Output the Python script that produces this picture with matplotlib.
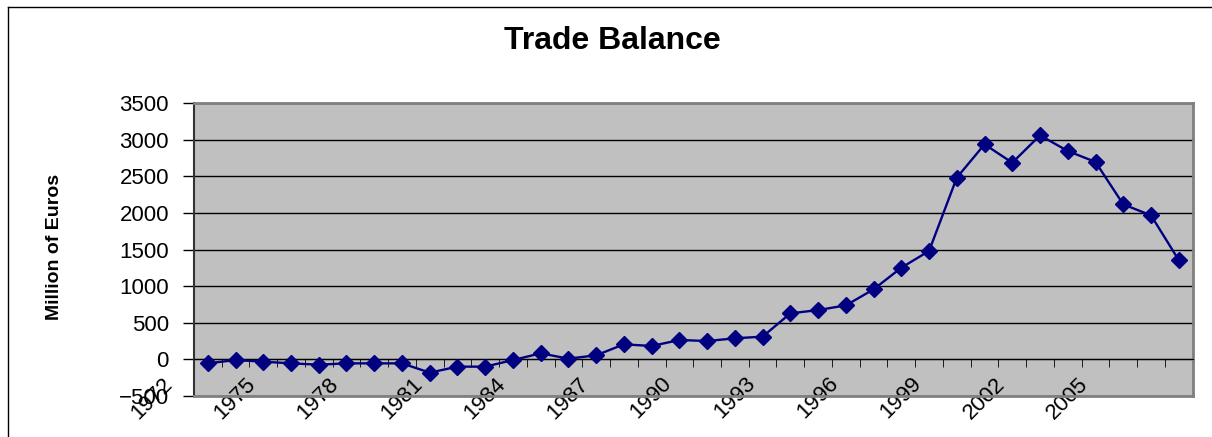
import numpy as np
import matplotlib
matplotlib.use('Agg')
import matplotlib.pyplot as plt
from matplotlib.lines import Line2D
from matplotlib.transforms import ScaledTranslation

plt.rcParams['font.family'] = ['Liberation Sans', 'DejaVu Sans']

years = list(range(1972, 2008))
balance = [-55, -10, -32, -55, -73, -55, -55, -55, -182, -100,
           -100, -10, 82, 9, 55, 205, 182, 264, 250, 287,
           310, 628, 673, 737, 956, 1252, 1480, 2482, 2937, 2686,
           3060, 2846, 2696, 2117, 1967, 1356]
label_years = years[::3]

fig = plt.figure(figsize=(12.12, 4.37), dpi=100)
ax = fig.add_axes([0.160, 0.094, 0.824, 0.670])
ax.set_facecolor('#c0c0c0')

x = np.arange(len(years))
ax.plot(x, balance, color='#000080', lw=1.7, marker='D', markersize=8,
        markerfacecolor='#000080', markeredgecolor='#000080', zorder=4)

ax.set_xlim(-0.5, len(years) - 0.5)
ax.set_ylim(-500, 3500)
ax.set_yticks(range(-500, 3501, 500))
ax.yaxis.grid(True, color='black', lw=1)
ax.set_axisbelow(True)

# x axis crosses at zero
ax.spines['bottom'].set_position(('data', 0))
ax.spines['bottom'].set_color('black')
ax.spines['left'].set_color('#333333')
ax.spines['left'].set_linewidth(1.5)
for s in ['top', 'right']:
    ax.spines[s].set_color('#808080')
    ax.spines[s].set_linewidth(2)
ax.axhline(-500, color='#808080', lw=2, clip_on=False, zorder=3)

ax.set_xticks([years.index(y) for y in label_years])
ax.set_xticklabels([str(y) for y in label_years], rotation=45, ha='right', va='top')
ax.set_xticks(np.arange(len(years) + 1) - 0.5, minor=True)
ax.tick_params(axis='x', which='major', length=0, pad=10, labelsize=16)
ax.tick_params(axis='x', which='minor', length=6, direction='out', color='black')
ax.tick_params(axis='y', length=8, width=1, pad=10, labelsize=16)

shift = ScaledTranslation(-0.31, 0, fig.dpi_scale_trans)
for t in ax.xaxis.get_major_ticks():
    t.label1.set_transform(t.label1.get_transform() + shift)

fig.text(0.505, 0.906, 'Trade Balance', ha='center', va='center',
         fontsize=23, fontweight='bold')
fig.text(0.045, 0.435, 'Million of Euros', ha='center', va='center',
         rotation=90, fontsize=14, fontweight='bold')

fig.add_artist(Line2D([0.0066, 0.0066], [0, 0.984], transform=fig.transFigure,
                      color='black', lw=1))
fig.add_artist(Line2D([0.0066, 1], [0.984, 0.984], transform=fig.transFigure,
                      color='black', lw=1))

fig.savefig('out.png', dpi=100)
